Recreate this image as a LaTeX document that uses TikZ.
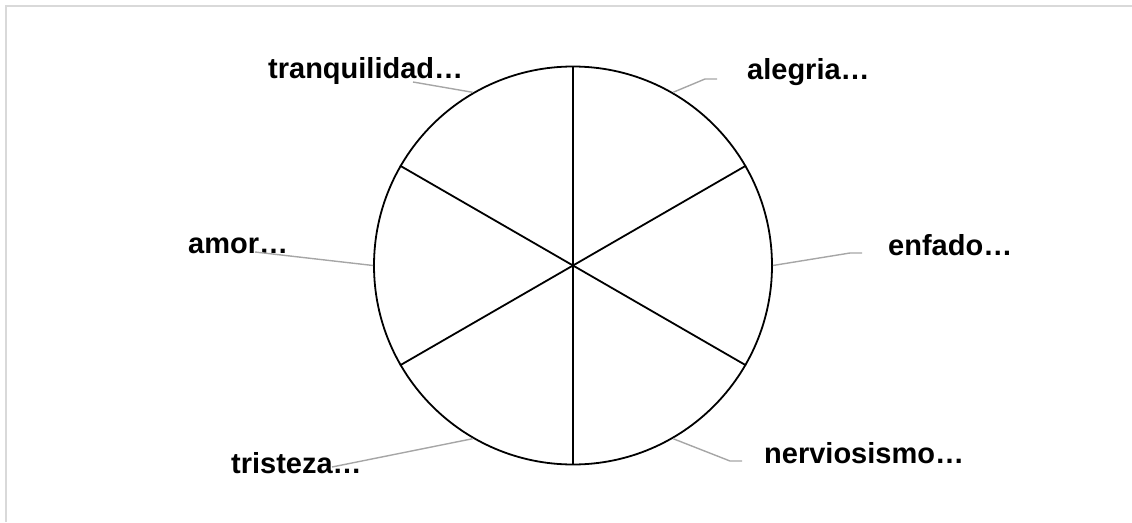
\documentclass[tikz,border=0pt]{standalone}
\usepackage{fontspec}
\setmainfont{Liberation Sans}
\begin{document}
\begin{tikzpicture}[x=1pt,y=-1pt,
  pie/.style={draw=black,line width=1.8pt,circle,minimum size=398pt,inner sep=0pt},
  slice/.style={draw=black,line width=1.8pt},
  leader/.style={draw=black!35,line width=1.4pt},
  lbl/.style={anchor=base west,inner sep=0pt,font=\fontsize{29}{34}\selectfont\bfseries},
  frame/.style={draw=black!15,line width=2pt}]
\useasboundingbox (0,0) rectangle (1132,522);
\draw[frame] (5.5,522) -- (5.5,5.5) -- (1132,5.5);
\node[pie] (c) at (573,265.5) {};
\foreach \a in {90,30,-30,-90,150,210}
  \draw[slice] (c.center) -- (c.\a);
% labels
\node[lbl] (tq) at (268,78) {tranquilidad…};
\node[lbl] (al) at (747,79) {alegria…};
\node[lbl] (en) at (888,255) {enfado…};
\node[lbl] (am) at (188,253) {amor…};
\node[lbl] (ne) at (764,463) {nerviosismo…};
\node[lbl] (tr) at (231,473) {tristeza…};
% leader ends
\coordinate (tqE) at (413,82);
\coordinate (alK) at (705,79);
\coordinate (alE) at (717,79);
\coordinate (enK) at (850,253);
\coordinate (enE) at (862,253);
\coordinate (amE) at (255,252);
\coordinate (neK) at (730,461);
\coordinate (neE) at (742,461);
\coordinate (trE) at (332,467);
\draw[leader] (c.120) -- (tqE);
\draw[leader] (c.60) -- (alK) -- (alE);
\draw[leader] (c.0) -- (enK) -- (enE);
\draw[leader] (c.180) -- (amE);
\draw[leader] (c.-60) -- (neK) -- (neE);
\draw[leader] (c.240) -- (trE);
\end{tikzpicture}
\end{document}
